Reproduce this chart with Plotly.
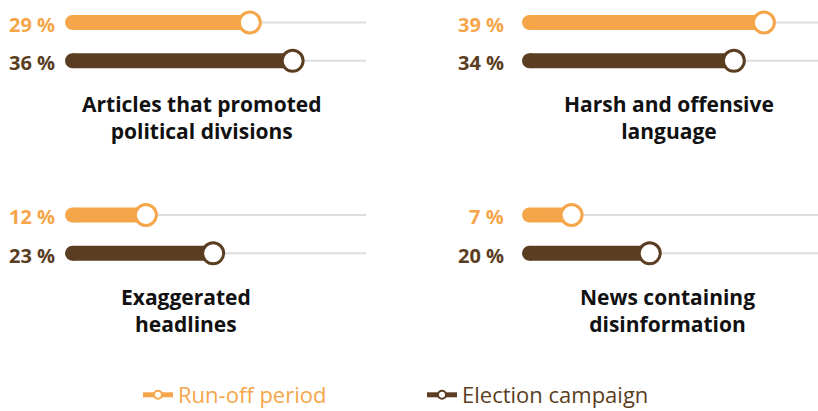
import plotly.graph_objects as go

# ---- data ----
categories = [
    "Articles that promoted<br>political divisions",
    "Harsh and offensive<br>language",
    "Exaggerated<br>headlines",
    "News containing<br>disinformation",
]
runoff = [29, 39, 12, 7]        # Run-off period (%)
campaign = [36, 34, 23, 20]     # Election campaign (%)
series_names = ["Run-off period", "Election campaign"]

# ---- style ----
ORANGE = "#F5A64A"
BROWN = "#5B3E22"
TRACK = "#DEDEDE"
FONT = "Open Sans"
W, H = 818, 411
XMAX = 48

# panel layout in pixels (left, right, top, bottom)
panel_x = [(72.5, 366), (529.5, 818), (72.5, 366), (529.5, 818)]
panel_y = [(3.35, 79.95), (3.35, 79.95), (195.85, 272.45), (195.85, 272.45)]
title_x = [202, 669, 186, 667]
title_y = [118, 118, 310, 310]
label_shift = [-16, -24, -16, -24]

fig = go.Figure()
annotations = []

for i, cat in enumerate(categories):
    ax = "" if i == 0 else str(i + 1)
    xa, ya = "x" + ax, "y" + ax
    x0, x1 = panel_x[i]
    t, b = panel_y[i]
    fig.update_layout(**{
        "xaxis" + ax: dict(domain=[x0 / W, x1 / W], range=[0, XMAX], visible=False, fixedrange=True),
        "yaxis" + ax: dict(domain=[1 - b / H, 1 - t / H], range=[-0.5, 1.5], visible=False, fixedrange=True),
    })
    # background tracks
    fig.add_trace(go.Scatter(
        x=[0, XMAX, None, 0, XMAX], y=[1, 1, None, 0, 0], xaxis=xa, yaxis=ya,
        mode="lines", line=dict(color=TRACK, width=2), hoverinfo="skip",
        showlegend=False, cliponaxis=False))
    for val, row, col, name in [(runoff[i], 1, ORANGE, series_names[0]),
                                (campaign[i], 0, BROWN, series_names[1])]:
        # bar body
        fig.add_trace(go.Scatter(
            x=[0, val], y=[row, row], xaxis=xa, yaxis=ya, mode="lines",
            line=dict(color=col, width=15), hoverinfo="skip",
            showlegend=False, cliponaxis=False))
        # rounded start cap
        fig.add_trace(go.Scatter(
            x=[0], y=[row], xaxis=xa, yaxis=ya, mode="markers",
            marker=dict(size=15, color=col, opacity=1, line=dict(width=0)),
            hoverinfo="skip", showlegend=False, cliponaxis=False))
        # end knob
        fig.add_trace(go.Scatter(
            x=[val], y=[row], xaxis=xa, yaxis=ya, mode="markers",
            marker=dict(size=21, color="white", opacity=1, line=dict(color=col, width=3)),
            name=name, showlegend=False, cliponaxis=False,
            hovertemplate=f"{name}: %{{x}} %<extra></extra>"))
        annotations.append(dict(
            x=0, y=row, xref=xa, yref=ya, xanchor="right", yanchor="middle",
            xshift=label_shift[i], yshift=-2, text=f"<b>{val} %</b>", showarrow=False,
            font=dict(family=FONT, size=20, color=col)))
    annotations.append(dict(
        x=title_x[i] / W, y=1 - title_y[i] / H, xref="paper", yref="paper",
        xanchor="center", yanchor="middle", text=f"<b>{cat}</b>", showarrow=False,
        align="center", font=dict(family=FONT, size=21, color="#111111")))

# legend entries
for name, col in zip(series_names, [ORANGE, BROWN]):
    fig.add_trace(go.Scatter(
        x=[None], y=[None], mode="lines+markers",
        line=dict(color=col, width=5),
        marker=dict(size=8, color="white", line=dict(color=col, width=2)),
        name=f"<span style='color:{col}'>{name}</span>", showlegend=True))

fig.update_layout(
    width=W, height=H,
    margin=dict(l=0, r=0, t=0, b=0, autoexpand=False),
    paper_bgcolor="white", plot_bgcolor="white",
    annotations=annotations,
    showlegend=True,
    legend=dict(orientation="h", x=138 / W, y=1 - 395 / H, xanchor="left", yanchor="middle",
                font=dict(family=FONT, size=22), entrywidth=239, entrywidthmode="pixels",
                itemwidth=30, bgcolor="rgba(0,0,0,0)"),
)

fig.write_html("out.html")
